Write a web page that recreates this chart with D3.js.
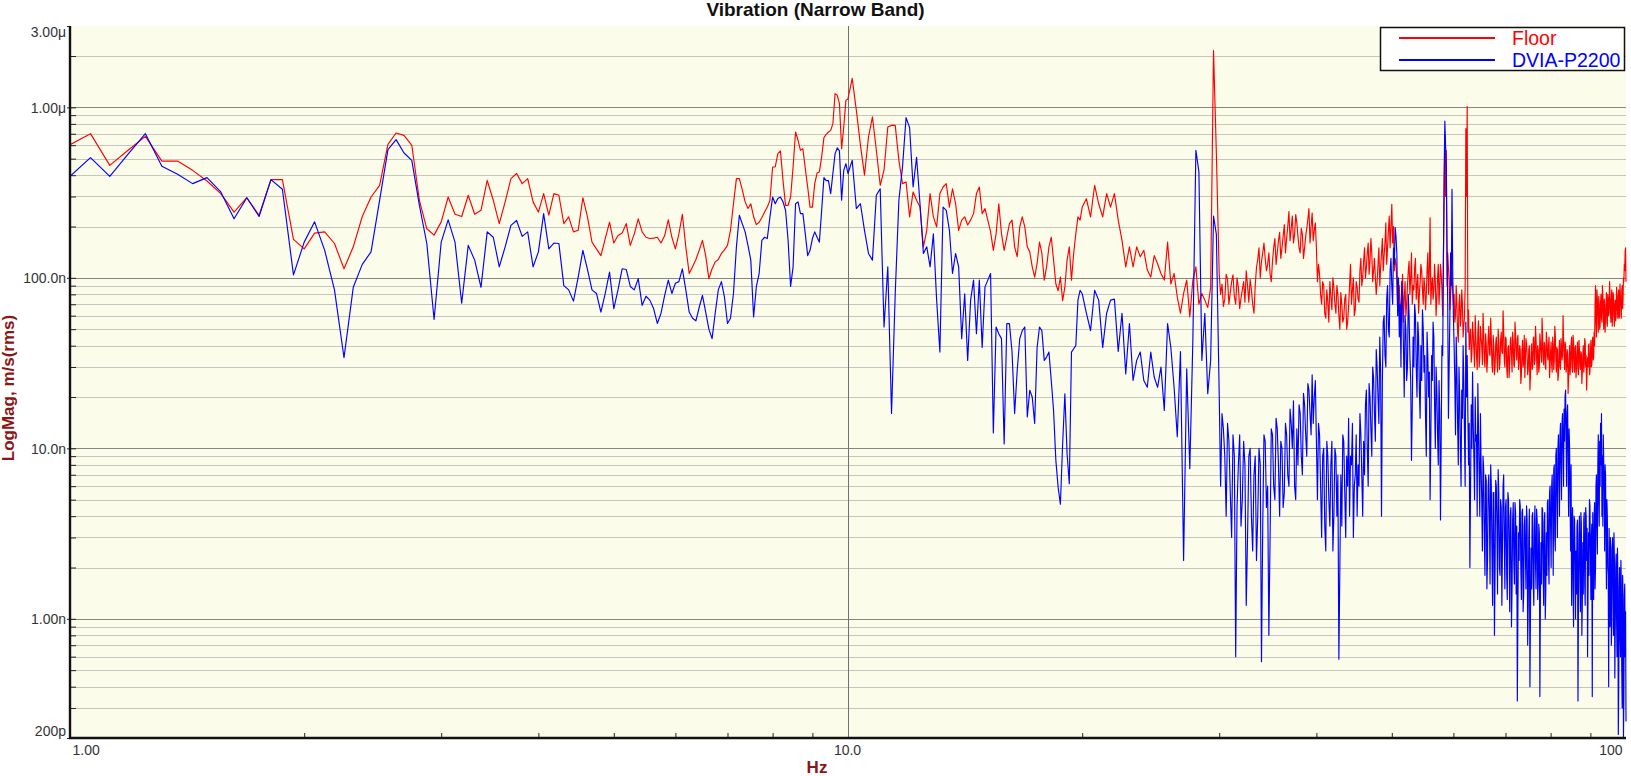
<!DOCTYPE html>
<html>
<head>
<meta charset="utf-8">
<script src="https://cdnjs.cloudflare.com/ajax/libs/d3/7.8.5/d3.min.js"></script>
<style>
  body { margin: 0; background: #fff; }
  text { font-family: "Liberation Sans", Arial, sans-serif; }
</style>
</head>
<body>
<svg id="chart"></svg>
<script>
// Spectrum values in nm/s (rms). Blocks of FFT bins, each with its own start / bin width.
const binsA = { start: 1.0, step: 0.0625 };   // 1 .. 10 Hz
const binsB = { start: 10.125, step: 0.125 }; // 10.125 .. 20 Hz
const binsC = { start: 20.25, step: 0.25 };   // 20.25 .. 30 Hz
const binsD = { start: 30.125, step: 0.125 }; // 30.125 .. 100 Hz

const floorA = [604,701,457,560,676,484,484,427,370,312,243,295,233,377,377,168,148,183,186,159,113,152,229,298,349,607,707,685,599,285,194,178,213,298,236,229,305,236,249,
  373,285,208,279,382,409,357,382,279,243,312,233,312,305,208,228,186,190,295,228,162,148,135,170,212,160,177,183,208,155,181,222,186,173,170,171,173,160,177,219,
  173,148,181,236,152,106,116,128,145,166,135,99,113,124,128,139,146,155,190,272,382,382,329,279,255,272,228,205,212,226,243,260,285,447,447,535,555,373,266,266,
  298,447,717,641,560,572,437,341,260,260,357,412,418,512,664,695,717,733,802,1203,1177,1051,572,767,1099,1124];
const dviaA = [394,507,394,531,701,451,405,357,387,319,222,295,229,377,331,104,162,213,145,85,34,88,120,142,285,565,647,540,489,266,159,57,162,219,162,71,155,127,88,
  186,173,116,152,203,217,175,186,116,142,238,148,160,159,90,85,73,101,145,112,85,81,63,81,108,66,85,113,112,89,85,99,69,78,74,66,54,62,79,97,
  81,93,95,113,85,63,58,56,67,79,63,50,44,62,85,95,77,54,58,81,152,233,208,186,155,127,59,89,106,166,173,170,228,298,272,292,298,279,249,166,
  89,116,272,279,238,238,181,135,145,170,186,173,162,249,387,372,372,312,409,535,578,555,285,427,467,409];

const floorB = [1480,960,600,400,670,880,560,349,428,767,784,784,489,357,365,228,319,285,260,152,190,312,228,199,312,341,357,260,333,272,190,218,228,204,218,238,312,341,238,255,
  218,186,145,181,272,181,145,173,208,218,152,133,199,228,199,152,142,116,101,121,162,139,97,116,152,173,127,92,84,101,73.5,88.5,127,152,97,139,181,228,218,260];
const dviaB = [489,255,272,190,139,127,305,333,51.5,116,16,80.7,285,446,870,760,341,510,272,139,152,116,181,74,36.7,260,249,190,106,139,116,44,80.7,32.8,74,97,47,97,39,88.5,
  97,106,12.3,51.5,47,44,10.6,53.9,53.9,36.7,16,28.6,44,49,51.5,15.3,21.9,20,14,39,51.5,49,32.8,34.3,36.7,25,16.7,8.5,5.9,4.7,10.6,20.9,9.3,6.2,36.7,38.4,40,74,84.5,80.7];

const floorC = [291,228,349,272,228,312,260,312,218,166,116,152,116,152,133,145,111,101,135,121,106,97,162,92,106,77,62,81,97,59,97,116,70,81,74,67,88,2150,535,106];
const dviaC = [62,49,84.5,74,39,62,74,75,37,62,27.3,54,25,32.8,36.7,25,22.8,36.7,26.2,22.8,30,16.7,54,39,22.8,11.7,37,2.2,29.3,7.6,43,560,420,32.8,62,20.9,32.8,230,180,20.9];

const floorD = [80,92,68,75,105,98,70,82,95,104,78,70,100,88,66,76,85,95,72,110,90,72,98,85,
  70,62,90,115,128,150,100,125,140,160,130,110,120,140,105,95,
  125,150,170,120,140,165,185,130,150,175,205,140,170,200,245,165,195,230,160,180,235,210,175,150,140,195,180,130,150,175,195,220,255,160,200,240,165,190,210,150,
  95,120,105,80,70,95,90,62,58,85,72,55,95,78,65,100,88,70,62,90,80,60,50,82,70,55,58,75,80,50,55,68,
  90,120,70,85,100,60,65,95,88,75,72,110,130,90,100,125,
  150,100,115,140,160,105,125,170,140,95,110,130,100,80,95,120,150,90,115,140,170,110,135,160,210,120,150,190,230,150,200,270,160,200,110,130,120,95,65,75,
  90,60,70,85,105,55,75,95,60,70,90,110,125,80,100,140,70,90,85,115,130,75,90,105,62,80,95,120,110,85,70,100,88,65,80,110,140,80,110,225,70,90,100,75,85,120,95,60,
  75,100,120,70,90,120,105,85,60,130,280,690,300,560,90,140,115,95,65,80,90,110,85,70,
  80,55,60,90,70,48,42,70,80,52,60,85,70,45,52,60,90,750,300,1010,48,65,38,45,
  50,32,36,55,47,38,30,60,44,35,29,48,56,30,34,52,45,40,31,62,
  48,33,30,47,41,28,33,44,52,36,35,58,44,31,28,46,39,27,30,41,
  45,34,28,50,42,29,32,43,48,37,36,64,50,33,30,45,44,30,26,39,
  40,26,31,42,45,35,28,48,42,31,30,55,47,36,33,44,46,29,32,40,
  38,24,27,37,43,30,32,46,26,33,44,41,35,27,29,38,40,22,27,35,
  41,29,30,44,45,31,33,52,44,34,27,40,38,28,30,47,42,36,32,58,
  46,33,31,42,40,30,29,48,43,35,33,40,45,26,30,37,42,31,28,45,
  40,29,33,52,46,34,28,39,38,25,27,36,43,30,29,44,40,33,35,60,
  44,36,29,42,40,28,30,38,36,21,26,33,40,27,31,41,45,30,28,46,
  42,32,28,39,40,26,30,36,42,29,27,43,38,31,29,37,36,24,28,35,
  40,28,31,44,42,30,35,22,28,34,30,40,41,27,28,36,43,30,31,42,
  45,33,34,48,
  40,70,90,55,45,85,75,60,48,78,70,50,52,72,80,58,55,90,78,62,50,75,70,48,58,68,82,55,52,80,75,60,62,95,80,65,
  55,74,85,52,60,82,78,62,52,70,74,56,60,88,80,64,58,78,85,58,60,92,76,70,58,84,90,66,75,100,95,120,110,145,150,95];
const dviaD = [6,16,13,9,4,14,11,5.5,3,12,9,0.6,4.5,8,12,3.5,5,11,8,1.2,3,9,10,4,2.5,7,9,2.2,4,10,8,0.56,3.5,12,11,4.5,6,0.8,3,13,
  12,6,5,15,13,8,4,11,10,4.5,5.5,14,12,7,6,17,14,10,19,6,5,13,8,18,16,9,7,21,18,12,9,24,22,16,12,27,14,20,25,11,
  5,14,12,6,3,9,10,3.5,2.5,11,9,5,3.5,8,11,2.5,4,10,9,4,7,0.58,2,7,3.5,12,11,5.5,3,9,6,15,
  4,9,8,14,3,6,7,12,4,8,6,16,12,7,4,11,7,18,22,10,6,24,20,13,9,30,26,16,11,38,30,20,14,45,28,4,25,55,60,35,30,75,90,50,45,110,130,90,70,150,120,198,175,140,60,100,
  45,70,30,95,75,40,20,60,50,25,30,80,60,35,25,8.5,18,45,30,70,60,30,20,55,45,22,15,40,25,65,50,28,35,15,9,48,35,20,28,5,12,35,25,55,45,18,10,30,
  22,12,8,25,16,3.8,12,40,35,120,400,830,600,450,160,70,15,30,60,140,90,330,110,60,
  40,25,12,45,28,14,8,30,20,10,6,22,15,40,25,12,6,55,20,35,16,8,14,2,6,18,10,28,14,9,5,20,11,12,4,24,13,7,4,16,
  8,5,2.5,9,7.5,3,1.8,7,6.5,1.5,2.2,6,7,4,1.6,8,6,2.5,1.2,5.5,
  5.5,0.8,2,6.5,6,3.5,1.4,7.5,5.5,2,1.8,5,4.5,1.2,2.6,6,7,3,1.5,4.5,
  5,1.8,1.3,5.5,5,2.8,1.1,4,4.5,0.9,1.5,3.8,4.8,2.2,1.6,4.8,4.2,1.4,3.5,0.33,
  1.2,3.2,2.2,5,4.6,2,1.3,4.2,4.4,1.1,1.4,3.5,4,2.4,1.5,4.6,3.8,0.7,1.2,3,
  4.4,0.4,1.1,2.6,1.5,4,4.2,1.6,1.2,3.4,4.6,2.1,1.5,4.4,3.8,1.3,1.6,3.6,3.2,0.35,
  1.4,2.8,1.6,4.5,4.4,1.9,1.2,3.7,4.2,1,1.5,3.2,1.8,4.8,5,2.3,1.6,5.5,6,3.5,
  2,6,7,4,1.8,7.5,8,3,2.5,9,10,5,3,10,12,7,4,12,14,8,5,14,16,10,6,17,11,20,22,12,6,16,18,9,4,13,10,5,2.5,8,
  1.2,3,4.5,1.5,0.9,4,3.8,2.2,1,2.5,1.4,3.5,3.8,0.33,1.2,3,4,2,1.1,4.2,3.6,0.8,1.2,2.8,1.4,3.8,4.2,1.6,
  1.2,4.5,4,2.2,3.4,0.6,1.4,3.2,1.8,5,4.6,2.5,1.3,3,3.6,0.35,4.2,2,1.3,4,4.8,1.5,2,6,7,3.5,2.4,8,
  12,5,3.5,11,6,14,8,16,4,9,3.5,12,8,6,2.5,8,7,3,1.5,5,4,2,1.8,0.4,3.4,1.2,0.9,3,2.6,0.7,0.9,2.5,
  3,1.8,0.8,3.2,2.2,0.45,0.9,2,2.4,1,0.6,2.6,1.8,0.21,0.4,1.5,2,0.8,0.6,2.2,1.6,0.5,0.3,1.8,1.4,0.2,0.35,1.3,1.6,0.6,1.1,0.25];

const seriesNames = ["Floor", "DVIA-P2200"];
const seriesColors = ["#ff0000", "#0000ff"];

const yLabelVals = [3000, 1000, 100, 10, 1, 0.2];
const yLabelText = ["3.00\u03bc", "1.00\u03bc", "100.0n", "10.0n", "1.00n", "200p"];
const yMajor = [1, 10, 100, 1000];
const yMinor = [0.3,0.4,0.5,0.6,0.7,0.8,0.9, 2,3,4,5,6,7,8,9, 20,30,40,50,60,70,80,90, 200,300,400,500,600,700,800,900, 2000];
const xLabelVals = [1, 10, 100];
const xLabelText = ["1.00", "10.0", "100"];
const xMinor = [2,3,4,5,6,7,8,9, 20,30,40,50,60,70,80,90];

const W = 1631, H = 776;
const plotL = 70, plotR = 1626, plotT = 26, plotB = 738;

const svg = d3.select("#chart").attr("width", W).attr("height", H);

const x = d3.scaleLog().domain([1, 100]).range([plotL, plotR]);
const y = d3.scaleLog().domain([0.2, 3000]).range([plotB, plotT]);

function toPoints(bins, vals) {
  return vals.map((v, i) => ({ f: bins.start + i * bins.step, v: v }));
}
const floorPts = toPoints(binsA, floorA).concat(toPoints(binsB, floorB), toPoints(binsC, floorC), toPoints(binsD, floorD));
const dviaPts = toPoints(binsA, dviaA).concat(toPoints(binsB, dviaB), toPoints(binsC, dviaC), toPoints(binsD, dviaD));

//plot background
svg.append("rect")
  .attr("x", plotL).attr("y", plotT)
  .attr("width", plotR - plotL).attr("height", plotB - plotT)
  .attr("fill", "#fcfcea");

//horizontal grid
svg.append("g").selectAll("line").data(yMinor).enter().append("line")
  .attr("x1", plotL).attr("x2", plotR)
  .attr("y1", d => Math.round(y(d)) + 0.5).attr("y2", d => Math.round(y(d)) + 0.5)
  .attr("stroke", "#c6c6c0").attr("stroke-width", 1);
svg.append("g").selectAll("line").data(yMajor).enter().append("line")
  .attr("x1", plotL).attr("x2", plotR)
  .attr("y1", d => Math.round(y(d)) + 0.5).attr("y2", d => Math.round(y(d)) + 0.5)
  .attr("stroke", "#858585").attr("stroke-width", 1);

//vertical line at 10 Hz
svg.append("line")
  .attr("x1", Math.round(x(10)) + 0.5).attr("x2", Math.round(x(10)) + 0.5)
  .attr("y1", plotT).attr("y2", plotB)
  .attr("stroke", "#707070").attr("stroke-width", 1);

//traces
svg.append("clipPath").attr("id", "plotclip")
  .append("rect").attr("x", plotL).attr("y", plotT - 2).attr("width", plotR - plotL + 1).attr("height", plotB - plotT + 2);

const line = d3.line()
  .x(d => x(d.f))
  .y(d => y(Math.max(d.v, 0.2)));

const traces = svg.append("g").attr("clip-path", "url(#plotclip)");
[floorPts, dviaPts].forEach((pts, i) => {
  traces.append("path")
    .datum(pts)
    .attr("d", line)
    .attr("fill", "none")
    .attr("stroke", seriesColors[i])
    .attr("stroke-width", 1.15)
    .attr("stroke-linejoin", "round");
});

//left axis
const yAxisMinor = d3.axisLeft(y).tickValues(yMinor.concat(yMajor)).tickSizeInner(-6).tickSizeOuter(0).tickFormat("");
svg.append("g").attr("transform", "translate(" + plotL + ",0)").call(yAxisMinor)
  .call(g => g.select(".domain").remove())
  .selectAll("line").attr("stroke", "#222");

const yAxis = d3.axisLeft(y).tickValues(yLabelVals).tickSizeInner(3).tickSizeOuter(0).tickPadding(1)
  .tickFormat((d, i) => yLabelText[i]);
const yg = svg.append("g").attr("transform", "translate(" + plotL + ",0)").call(yAxis);
yg.select(".domain").remove();
yg.selectAll("line").attr("stroke", "#222");
yg.selectAll("text")
  .style("font-size", "14px").attr("fill", "#333")
  .attr("dy", (d, i) => i === 0 ? "0.78em" : (i === yLabelVals.length - 1 ? "-0.18em" : "0.34em"));

//bottom axis
const xAxisMinor = d3.axisBottom(x).tickValues(xMinor).tickSizeInner(-5).tickSizeOuter(0).tickFormat("");
svg.append("g").attr("transform", "translate(0," + plotB + ")").call(xAxisMinor)
  .call(g => g.select(".domain").remove())
  .selectAll("line").attr("stroke", "#222");

const xAxis = d3.axisBottom(x).tickValues(xLabelVals).tickSize(0).tickPadding(7)
  .tickFormat((d, i) => xLabelText[i]);
const xg = svg.append("g").attr("transform", "translate(0," + plotB + ")").call(xAxis);
xg.select(".domain").remove();
xg.selectAll("text")
  .style("font-size", "14px").attr("fill", "#333")
  .attr("text-anchor", (d, i) => i === 0 ? "start" : (i === xLabelVals.length - 1 ? "end" : "middle"))
  .attr("dx", (d, i) => i === 0 ? 2 : (i === xLabelVals.length - 1 ? -4 : -1));

//axis lines
svg.append("line").attr("x1", plotL).attr("x2", plotL).attr("y1", plotT).attr("y2", plotB + 1)
  .attr("stroke", "#111").attr("stroke-width", 2.4);
svg.append("line").attr("x1", plotL - 1).attr("x2", plotR).attr("y1", plotB).attr("y2", plotB)
  .attr("stroke", "#111").attr("stroke-width", 2.4);

//titles
svg.append("text")
  .attr("x", W / 2).attr("y", 16)
  .attr("text-anchor", "middle")
  .style("font-size", "19px").style("font-weight", "bold").attr("fill", "#111")
  .text("Vibration (Narrow Band)");

svg.append("text")
  .attr("x", 817).attr("y", 773)
  .attr("text-anchor", "middle")
  .style("font-size", "17px").style("font-weight", "bold").attr("fill", "#8c1616")
  .text("Hz");

svg.append("text")
  .attr("transform", "translate(14,388) rotate(-90)")
  .attr("text-anchor", "middle")
  .style("font-size", "17px").style("font-weight", "bold").attr("fill", "#8c1616")
  .text("LogMag, m/s(rms)");

//legend
const legend = svg.append("g");
legend.append("rect")
  .attr("x", 1380.5).attr("y", 27.5).attr("width", 244).attr("height", 43)
  .attr("fill", "#fff").attr("stroke", "#111").attr("stroke-width", 1.5);
seriesNames.forEach((name, i) => {
  const ly = 38 + i * 22;
  legend.append("line")
    .attr("x1", 1399).attr("x2", 1495).attr("y1", ly).attr("y2", ly)
    .attr("stroke", seriesColors[i]).attr("stroke-width", 2);
  legend.append("text")
    .attr("x", 1512).attr("y", ly + 7)
    .style("font-size", "19.5px").attr("fill", seriesColors[i])
    .text(name);
});
</script>
</body>
</html>
